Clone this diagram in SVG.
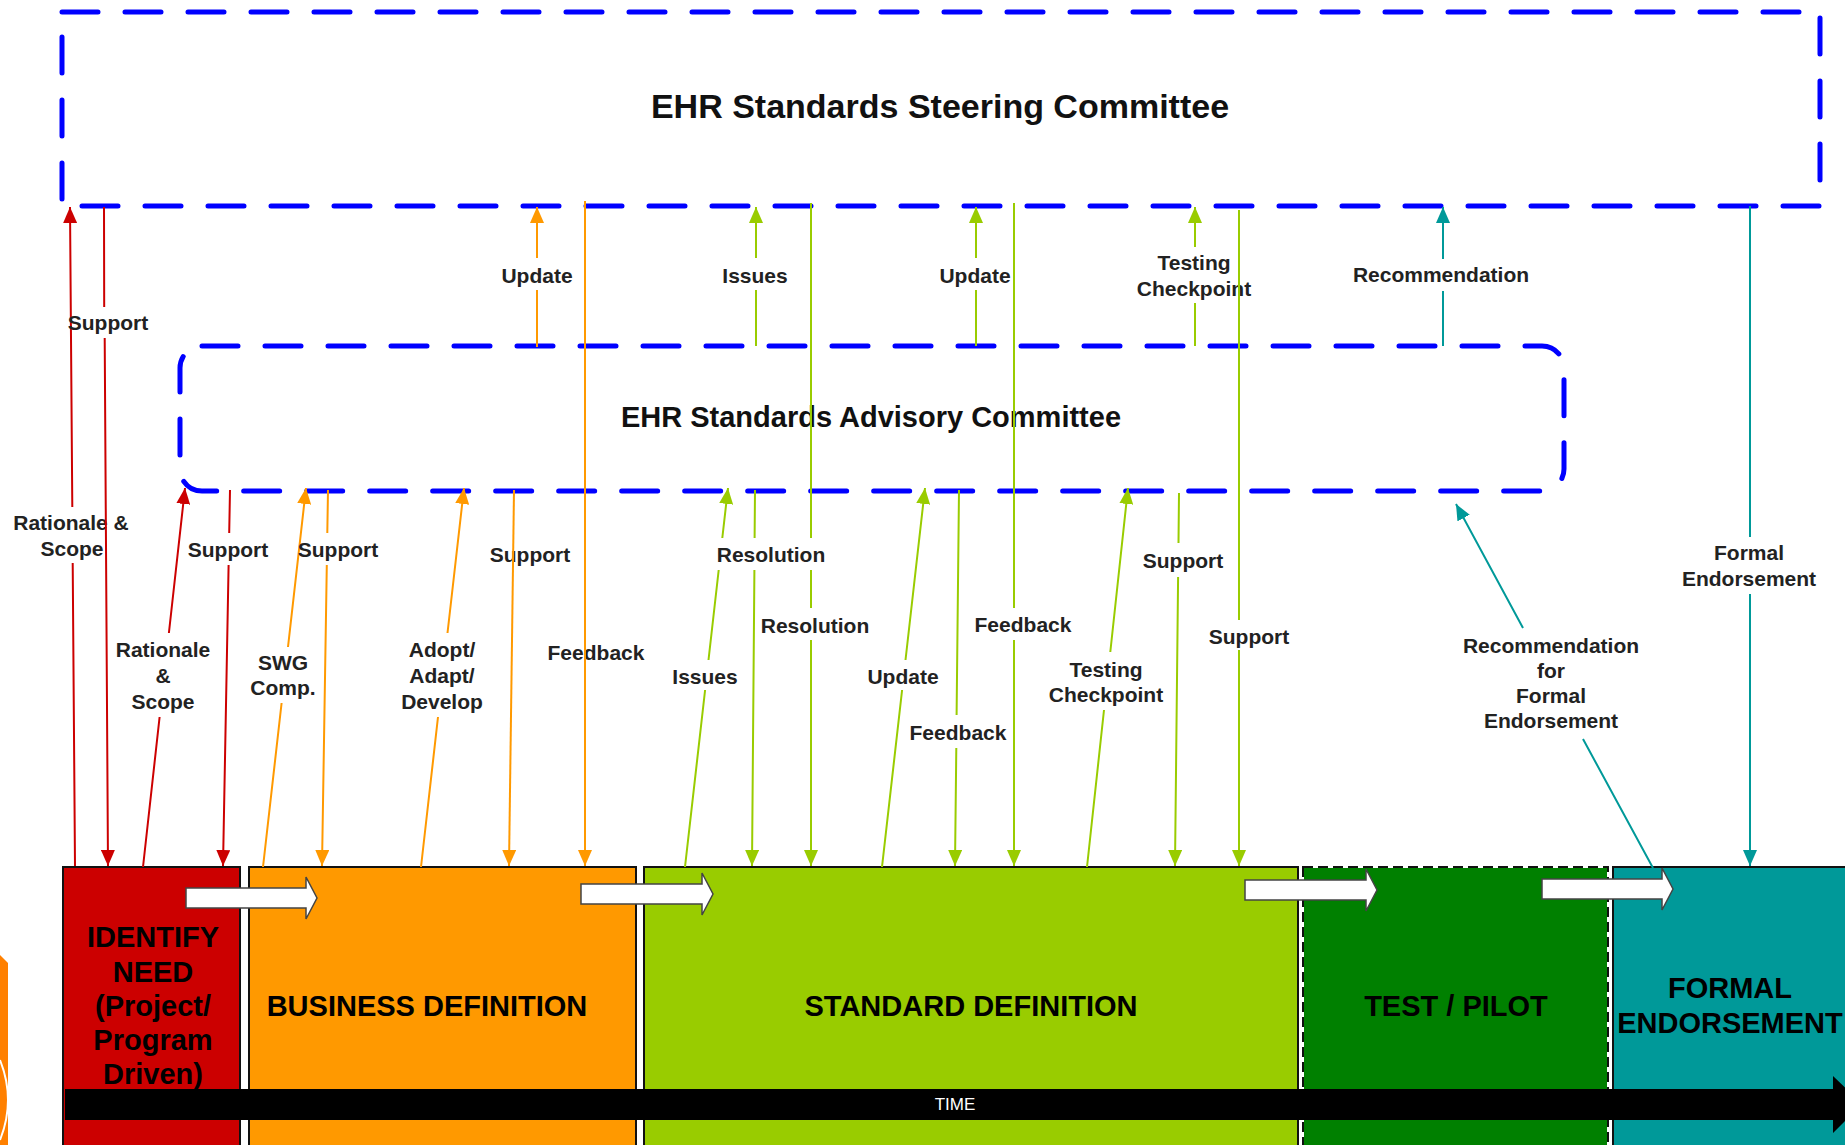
<svg xmlns="http://www.w3.org/2000/svg" width="1845" height="1145" viewBox="0 0 1845 1145">
<style>
.committee{fill:none;stroke:#0000FF;stroke-width:5;stroke-dasharray:36 27;stroke-linecap:round}
.ctitle{font-family:"Liberation Sans",Arial,sans-serif;font-weight:bold;fill:#111;text-anchor:middle}
.phase{stroke:#111;stroke-width:2}
.ptext{font-family:"Liberation Sans",Arial,sans-serif;font-weight:bold;font-size:29px;fill:#000;text-anchor:middle}
.flow{fill:#fff;stroke:#444;stroke-width:1.5}
.lbl{font-family:"Liberation Sans",Arial,sans-serif;font-weight:bold;font-size:21px;fill:#222;text-anchor:middle}
.c{fill:none;stroke-width:2}
.red{stroke:#CC0000;marker-end:url(#ah-red)}
.org{stroke:#FF9900;marker-end:url(#ah-org)}
.grn{stroke:#99CC00;marker-end:url(#ah-grn)}
.tea{stroke:#009999;marker-end:url(#ah-tea)}
</style>
<defs>
<marker id="ah-red" viewBox="0 0 16 14" refX="16" refY="7" markerWidth="16" markerHeight="14" markerUnits="userSpaceOnUse" orient="auto"><path d="M0,0 L16,7 L0,14 z" fill="#CC0000"/></marker>
<marker id="ah-org" viewBox="0 0 16 14" refX="16" refY="7" markerWidth="16" markerHeight="14" markerUnits="userSpaceOnUse" orient="auto"><path d="M0,0 L16,7 L0,14 z" fill="#FF9900"/></marker>
<marker id="ah-grn" viewBox="0 0 16 14" refX="16" refY="7" markerWidth="16" markerHeight="14" markerUnits="userSpaceOnUse" orient="auto"><path d="M0,0 L16,7 L0,14 z" fill="#99CC00"/></marker>
<marker id="ah-tea" viewBox="0 0 16 14" refX="16" refY="7" markerWidth="16" markerHeight="14" markerUnits="userSpaceOnUse" orient="auto"><path d="M0,0 L16,7 L0,14 z" fill="#009999"/></marker>
</defs>
<rect width="1845" height="1145" fill="#fff"/>

<!-- left edge fragment -->
<g id="edge-fragment">
<path d="M0,955 L8,963 L8,1145 L0,1145 Z" fill="#FF8000"/>
<path d="M0,1060 Q16,1100 0,1140" fill="none" stroke="#fff" stroke-width="2"/>
</g>

<g id="phase-identify">
<rect class="phase" x="63" y="867" width="177" height="300" fill="#CC0000"/>
<text class="ptext"><tspan x="153" y="947">IDENTIFY</tspan><tspan x="153" y="982">NEED</tspan><tspan x="153" y="1016">(Project/</tspan><tspan x="153" y="1050">Program</tspan><tspan x="153" y="1084">Driven)</tspan></text>
</g>
<g id="phase-business">
<rect class="phase" x="249" y="867" width="387" height="300" fill="#FF9900"/>
<text class="ptext" x="427" y="1016">BUSINESS DEFINITION</text>
</g>
<g id="phase-standard">
<rect class="phase" x="644" y="867" width="654" height="300" fill="#99CC00"/>
<text class="ptext" x="971" y="1016">STANDARD DEFINITION</text>
</g>
<g id="phase-test">
<rect x="1303" y="867" width="305" height="300" fill="#008000" stroke="#fff" stroke-width="2"/>
<rect x="1303" y="867" width="305" height="300" fill="none" stroke="#111" stroke-width="2" stroke-dasharray="10 5"/>
<text class="ptext" x="1456" y="1016">TEST / PILOT</text>
</g>
<g id="phase-formal">
<rect class="phase" x="1613" y="867" width="250" height="300" fill="#009999"/>
<text class="ptext"><tspan x="1730" y="998">FORMAL</tspan><tspan x="1730" y="1033">ENDORSEMENT</tspan></text>
</g>

<g id="flow-arrows">
<path class="flow" d="M186,888 H306 V877 L317,898 L306,919 V908 H186 Z"/>
<path class="flow" d="M581,884 H702 V873 L713,894 L702,915 V904 H581 Z"/>
<path class="flow" d="M1245,880 H1366 V869 L1377,890 L1366,911 V900 H1245 Z"/>
<path class="flow" d="M1542,879 H1662 V868 L1673,889 L1662,910 V899 H1542 Z"/>
</g>

<g id="time-axis">
<path d="M65,1089 H1833 V1076 L1862,1104 L1833,1133 V1120 H65 Z" fill="#000"/>
<text x="955" y="1110" font-family="Liberation Sans, Arial, sans-serif" font-size="17" fill="#fff" text-anchor="middle">TIME</text>
</g>

<g id="steering-committee">
<rect class="committee" x="62" y="12" width="1758" height="194"/>
<text class="ctitle" x="940" y="118" font-size="34">EHR Standards Steering Committee</text>
</g>
<g id="advisory-committee">
<rect class="committee" x="180" y="346" width="1384" height="145" rx="22" ry="22"/>
<text class="ctitle" x="871" y="427" font-size="29">EHR Standards Advisory Committee</text>
</g>

<g id="connectors">
<g id="c-a1"><path class="c red" d="M75,866 L72.7,563 M72.3,507 L70,207"/><text class="lbl"><tspan x="71" y="530">Rationale &amp;</tspan><tspan x="72" y="556">Scope</tspan></text></g>
<g id="c-a2"><path class="c red" d="M104,207 L104.2,307 M104.7,338 L108,866"/><text class="lbl" x="108" y="330">Support</text></g>
<g id="c-a3"><path class="c red" d="M143,867 L159.6,717 M168.9,633 L185,488"/><text class="lbl"><tspan x="163" y="656.5">Rationale</tspan><tspan x="163" y="682.5">&amp;</tspan><tspan x="163" y="708.5">Scope</tspan></text></g>
<g id="c-a4"><path class="c red" d="M230,490 L229.2,533 M228.6,565 L223,866"/><text class="lbl" x="228" y="556.5">Support</text></g>

<g id="c-b1"><path class="c org" d="M263,867 L281.6,703 M288,647 L306,488"/><text class="lbl"><tspan x="283" y="669.5">SWG</tspan><tspan x="283" y="694.5">Comp.</tspan></text></g>
<g id="c-b2"><path class="c org" d="M328,490 L327.3,533 M326.8,565 L322,866"/><text class="lbl" x="338" y="556.5">Support</text></g>
<g id="c-b3"><path class="c org" d="M421,867 L438,717 M447.5,633 L464,488"/><text class="lbl"><tspan x="442" y="656.5">Adopt/</tspan><tspan x="442" y="682.5">Adapt/</tspan><tspan x="442" y="708.5">Develop</tspan></text></g>
<g id="c-b4"><text class="lbl" x="530" y="562">Support</text><path class="c org" d="M514,490 L509,866"/></g>
<g id="c-b5"><text class="lbl" x="596" y="659.5">Feedback</text><path class="c org" d="M585,201 L585,866"/></g>
<g id="c-b6"><path class="c org" d="M537,347 L537,290 M537,258 L537,207"/><text class="lbl" x="537" y="282.5">Update</text></g>

<g id="c-c1"><path class="c grn" d="M756,346 L756,290 M756,258 L756,207"/><text class="lbl" x="755" y="282.5">Issues</text></g>
<g id="c-c2"><path class="c grn" d="M811,203 L811,538 M811,570 L811,608 M811,640 L811,866"/><text class="lbl" x="815" y="632.5">Resolution</text></g>
<g id="c-c3"><path class="c grn" d="M755,490 L754.6,538 M754.4,570 L752,866"/><text class="lbl" x="771" y="562">Resolution</text></g>
<g id="c-c4"><path class="c grn" d="M685,867 L705.1,690 M708.5,660 L718.7,570 M722.3,538 L728,488"/><text class="lbl" x="705" y="683.5">Issues</text></g>
<g id="c-c5"><path class="c grn" d="M976,346 L976,290 M976,258 L976,207"/><text class="lbl" x="975" y="282.5">Update</text></g>
<g id="c-c6"><path class="c grn" d="M1014,203 L1014,608 M1014,640 L1014,866"/><text class="lbl" x="1023" y="631.5">Feedback</text></g>
<g id="c-c7"><path class="c grn" d="M882,867 L902.1,690 M905.5,660 L925,488"/><text class="lbl" x="903" y="683.5">Update</text></g>
<g id="c-c8"><path class="c grn" d="M959,490 L956.6,715 M956.3,748 L955,866"/><text class="lbl" x="958" y="739.5">Feedback</text></g>
<g id="c-c9"><text class="lbl"><tspan x="1194" y="269.5">Testing</tspan><tspan x="1194" y="295.5">Checkpoint</tspan></text><path class="c grn" d="M1195,346 L1195,303 M1195,247 L1195,207"/></g>
<g id="c-c10"><path class="c grn" d="M1239,210 L1239,620 M1239,650 L1239,866"/><text class="lbl" x="1249" y="643.5">Support</text></g>
<g id="c-c11"><path class="c grn" d="M1087,867 L1104,710 M1110.3,652 L1128,488"/><text class="lbl"><tspan x="1106" y="676.5">Testing</tspan><tspan x="1106" y="701.5">Checkpoint</tspan></text></g>
<g id="c-c12"><path class="c grn" d="M1179,493 L1178.5,543 M1178.1,577 L1175,866"/><text class="lbl" x="1183" y="567.5">Support</text></g>

<g id="c-d1"><path class="c tea" d="M1443,346 L1443,291 M1443,259 L1443,207"/><text class="lbl" x="1441" y="281.5">Recommendation</text></g>
<g id="c-d2"><path class="c tea" d="M1653,868 L1583,739 M1523,628 L1456,504"/><text class="lbl"><tspan x="1551" y="652.5">Recommendation</tspan><tspan x="1551" y="677.5">for</tspan><tspan x="1551" y="702.5">Formal</tspan><tspan x="1551" y="727.5">Endorsement</tspan></text></g>
<g id="c-d3"><path class="c tea" d="M1750,206 L1750,537 M1750,594 L1750,866"/><text class="lbl"><tspan x="1749" y="559.5">Formal</tspan><tspan x="1749" y="585.5">Endorsement</tspan></text></g>
</g>
</svg>
